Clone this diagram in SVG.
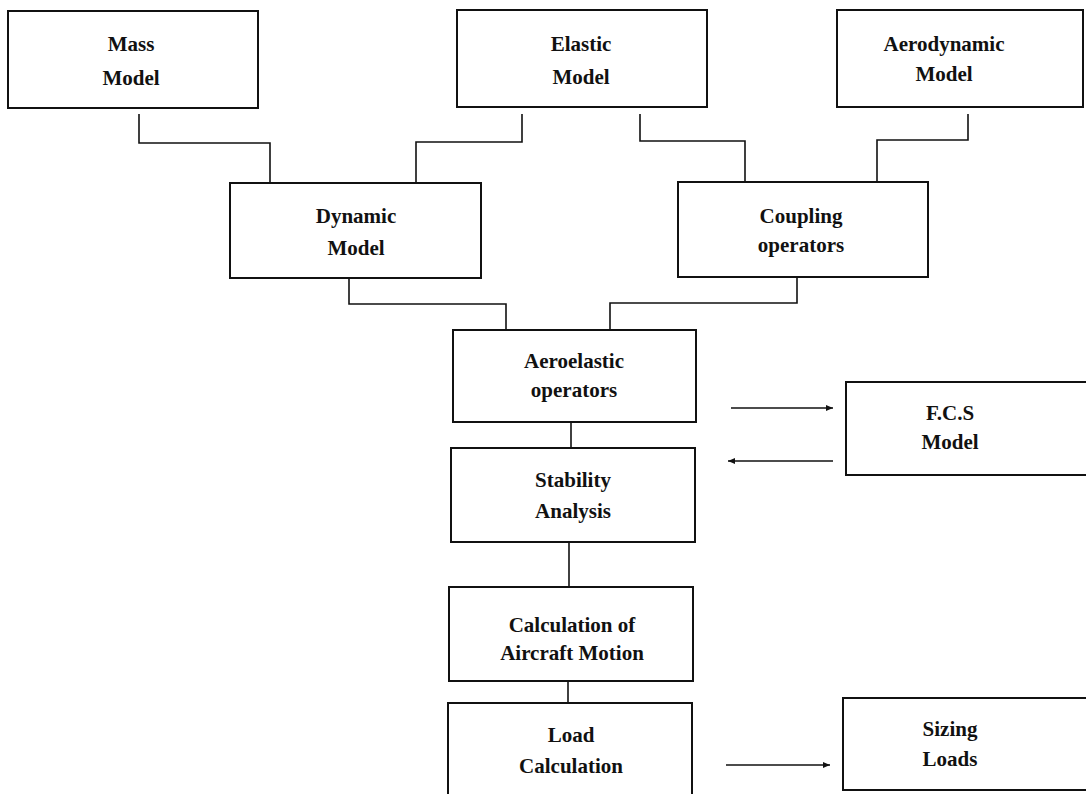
<svg xmlns="http://www.w3.org/2000/svg" width="1086" height="794" viewBox="0 0 1086 794">
<style>
.box{fill:#fff;stroke:#111;stroke-width:2}
.t{font-family:"Liberation Serif","Times New Roman",serif;font-weight:bold;font-size:21px;fill:#111;text-anchor:middle}
.c{fill:none;stroke:#111;stroke-width:1.6}
</style>
<defs>
<marker id="ah" markerWidth="8" markerHeight="8" refX="7" refY="4" orient="auto" markerUnits="userSpaceOnUse">
<path d="M0,1 L7,4 L0,7 Z" fill="#111"/>
</marker>
</defs>
<rect width="1086" height="794" fill="#fff"/>
<g id="connectors">
<polyline class="c" points="139,114 139,143 270,143 270,183"/>
<polyline class="c" points="522,114 522,142 416,142 416,183"/>
<polyline class="c" points="640,114 640,141 745,141 745,182"/>
<polyline class="c" points="968,114 968,140 877,140 877,182"/>
<polyline class="c" points="349,278 349,304 506,304 506,330"/>
<polyline class="c" points="797,277 797,303 610,303 610,330"/>
<line class="c" x1="571" y1="422" x2="571" y2="448"/>
<line class="c" x1="569" y1="542" x2="569" y2="587"/>
<line class="c" x1="568" y1="681" x2="568" y2="703"/>
<line class="c" x1="731" y1="408" x2="833" y2="408" marker-end="url(#ah)"/>
<line class="c" x1="833" y1="461" x2="728" y2="461" marker-end="url(#ah)"/>
<line class="c" x1="726" y1="765" x2="830" y2="765" marker-end="url(#ah)"/>
</g>
<g id="mass"><rect class="box" x="8" y="11" width="250" height="97"/><text class="t" x="131" y="51">Mass</text><text class="t" x="131" y="85">Model</text></g>
<g id="elastic"><rect class="box" x="457" y="10" width="250" height="97"/><text class="t" x="581" y="51">Elastic</text><text class="t" x="581" y="84">Model</text></g>
<g id="aero"><rect class="box" x="837" y="10" width="246" height="97"/><text class="t" x="944" y="51">Aerodynamic</text><text class="t" x="944" y="81">Model</text></g>
<g id="dynamic"><rect class="box" x="230" y="183" width="251" height="95"/><text class="t" x="356" y="223">Dynamic</text><text class="t" x="356" y="255">Model</text></g>
<g id="coupling"><rect class="box" x="678" y="182" width="250" height="95"/><text class="t" x="801" y="223">Coupling</text><text class="t" x="801" y="252">operators</text></g>
<g id="aeroelastic"><rect class="box" x="453" y="330" width="243" height="92"/><text class="t" x="574" y="368">Aeroelastic</text><text class="t" x="574" y="397">operators</text></g>
<g id="fcs"><rect class="box" x="846" y="382" width="242" height="93"/><text class="t" x="950" y="420">F.C.S</text><text class="t" x="950" y="449">Model</text></g>
<g id="stability"><rect class="box" x="451" y="448" width="244" height="94"/><text class="t" x="573" y="487">Stability</text><text class="t" x="573" y="518">Analysis</text></g>
<g id="motion"><rect class="box" x="449" y="587" width="244" height="94"/><text class="t" x="572" y="632">Calculation of</text><text class="t" x="572" y="660">Aircraft Motion</text></g>
<g id="load"><rect class="box" x="448" y="703" width="244" height="94"/><text class="t" x="571" y="742">Load</text><text class="t" x="571" y="773">Calculation</text></g>
<g id="sizing"><rect class="box" x="843" y="698" width="245" height="92"/><text class="t" x="950" y="736">Sizing</text><text class="t" x="950" y="766">Loads</text></g>
</svg>
